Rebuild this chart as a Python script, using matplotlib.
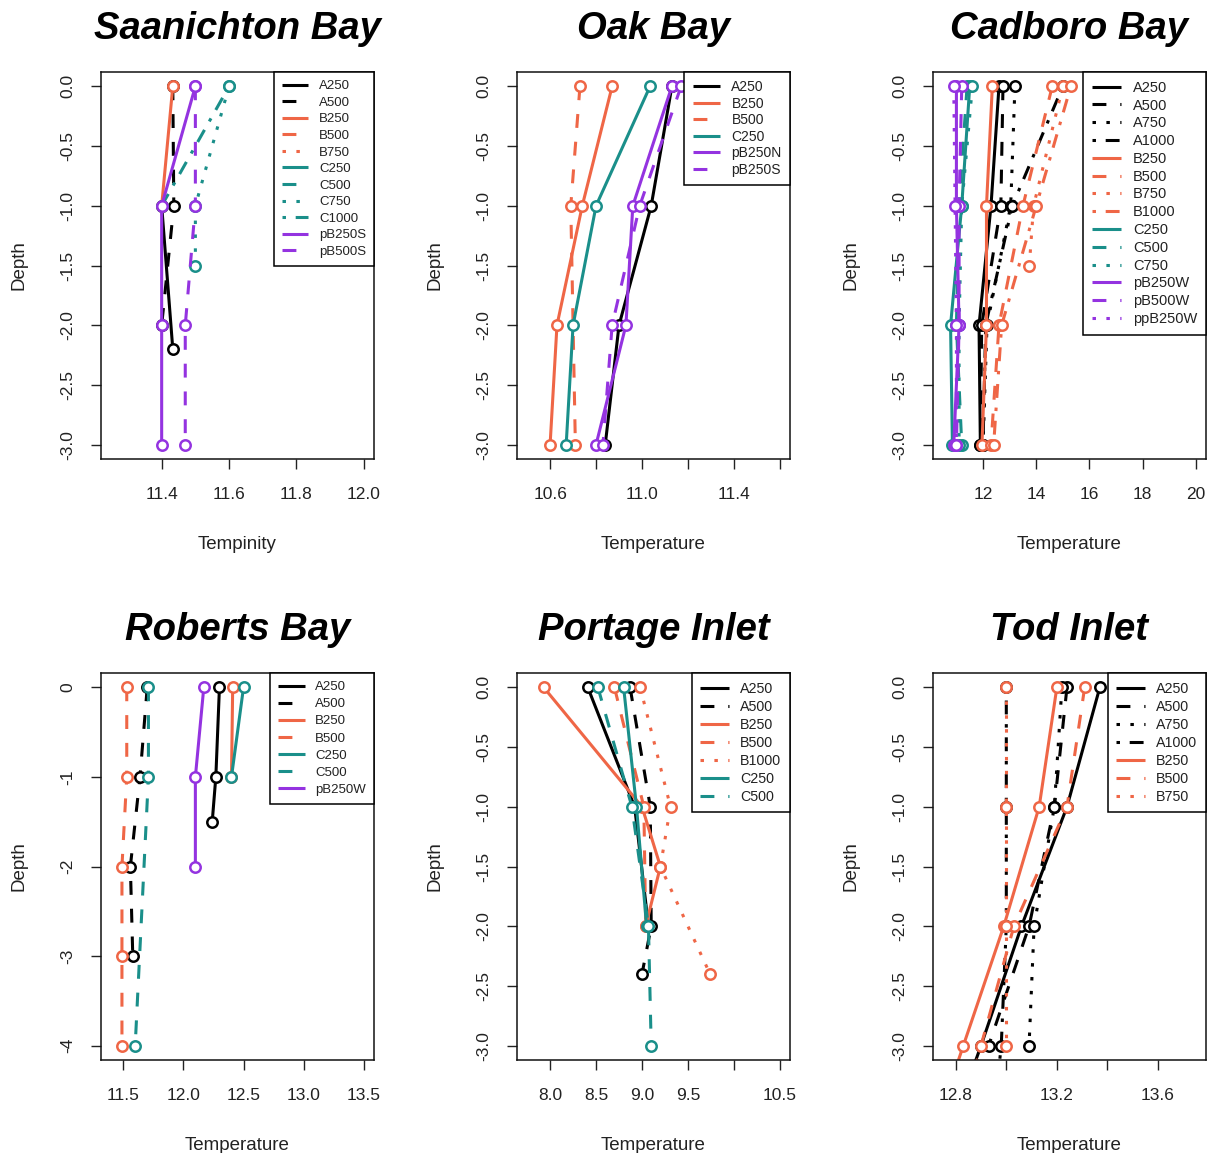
import matplotlib
matplotlib.use("Agg")
import matplotlib.pyplot as plt
from matplotlib.lines import Line2D

plt.rcParams['font.family'] = ['Liberation Sans', 'DejaVu Sans']
plt.rcParams['axes.unicode_minus'] = False
plt.rcParams['lines.scale_dashes'] = False

# ---- data: temperature profiles by depth at each site ----
saanichton_series = ['A250', 'A500', 'B250', 'B500', 'B750', 'C250', 'C500',
                     'C750', 'C1000', 'pB250S', 'pB500S']
saanichton_depth = [[-1, -2.2], [0, -1, -2], [0, -1], [], [], [], [],
                    [0, -1, -1.5], [0, -1], [0, -1, -2, -3], [0, -1, -2, -3]]
saanichton_temp = [[11.40, 11.433], [11.433, 11.436, 11.40], [11.433, 11.40],
                   [], [], [], [], [11.60, 11.50, 11.50], [11.60, 11.40],
                   [11.50, 11.40, 11.40, 11.40], [11.50, 11.50, 11.47, 11.47]]

oak_series = ['A250', 'B250', 'B500', 'C250', 'pB250N', 'pB250S']
oak_depth = [[0, -1, -2, -3], [0, -1, -2, -3], [0, -1, -3], [0, -1, -2, -3],
             [0, -1, -2, -3], [0, -1, -2, -3]]
oak_temp = [[11.13, 11.04, 10.90, 10.84], [10.87, 10.74, 10.63, 10.60],
            [10.73, 10.69, 10.71], [11.035, 10.80, 10.70, 10.67],
            [11.13, 10.96, 10.93, 10.80], [11.17, 10.99, 10.87, 10.83]]

cadboro_series = ['A250', 'A500', 'A750', 'A1000', 'B250', 'B500', 'B750',
                  'B1000', 'C250', 'C500', 'C750', 'pB250W', 'pB500W', 'ppB250W']
cadboro_depth = [[0, -1, -2, -3]] * 6 + [[0, -1, -1.5]] + [[0, -1, -2, -3]] * 7
cadboro_temp = [[12.6, 12.3, 11.85, 11.9], [12.75, 12.67, 11.95, 11.9],
                [13.2, 13.04, 12.15, 12.0], [15.0, 13.1, 12.1, 12.0],
                [12.35, 12.13, 12.13, 11.96], [14.6, 13.5, 12.6, 12.3],
                [15.0, 13.9, 13.74], [15.3, 14.0, 12.7, 12.4],
                [11.5, 11.2, 10.78, 10.85], [11.4, 11.1, 11.0, 11.2],
                [11.6, 11.2, 11.1, 11.1], [11.0, 11.0, 11.1, 10.9],
                [11.2, 11.1, 11.1, 11.0], [10.9, 10.95, 11.0, 11.0]]

roberts_series = ['A250', 'A500', 'B250', 'B500', 'C250', 'C500', 'pB250W']
roberts_depth = [[0, -1, -1.5], [0, -1, -2, -3], [0, -1], [0, -1, -2, -3, -4],
                 [0, -1], [0, -1, -4], [0, -1, -2]]
roberts_temp = [[12.30, 12.27, 12.24], [11.70, 11.64, 11.56, 11.58],
                [12.41, 12.40], [11.53, 11.53, 11.49, 11.49, 11.49],
                [12.50, 12.40], [11.71, 11.71, 11.60], [12.17, 12.10, 12.10]]

portage_series = ['A250', 'A500', 'B250', 'B500', 'B1000', 'C250', 'C500']
portage_depth = [[0, -1, -2], [0, -1, -2, -2.4], [0, -1, -1.5, -2], [0, -1, -2],
                 [0, -1, -1.5, -2.4], [0, -1, -2], [0, -1, -2, -3]]
portage_temp = [[8.41, 8.92, 9.07], [8.87, 9.09, 9.10, 9.00],
                [7.93, 9.00, 9.20, 9.04], [8.70, 9.02, 9.04],
                [8.98, 9.31, 9.20, 9.74], [8.80, 8.94, 9.05],
                [8.52, 8.89, 9.07, 9.10]]

tod_series = ['A250', 'A500', 'A750', 'A1000', 'B250', 'B500', 'B750']
tod_depth = [[0, -1, -2, -3, -4], [0, -1, -2, -3], [0, -1, -2, -3],
             [0, -1, -2, -3, -4], [0, -1, -2, -3, -4], [0, -1, -2, -3, -4],
             [0, -1, -2, -3]]
tod_temp = [[13.37, 13.24, 13.06, 12.90, 12.73], [13.24, 13.19, 13.09, 12.93],
            [13.22, 13.19, 13.11, 13.09], [13.0, 13.0, 13.0, 12.98, 12.93],
            [13.20, 13.13, 12.99, 12.83, 12.67], [13.31, 13.24, 13.03, 12.90, 12.77],
            [13.0, 13.0, 13.0, 13.0]]

site_titles = ['Saanichton Bay', 'Oak Bay', 'Cadboro Bay',
               'Roberts Bay', 'Portage Inlet', 'Tod Inlet']
x_labels = ['Tempinity', 'Temperature', 'Temperature',
            'Temperature', 'Temperature', 'Temperature']
x_ranges = [(11.25, 12.0), (10.5, 11.6), (10.5, 20.0),
            (11.4, 13.5), (7.75, 10.5), (12.75, 13.75)]
x_ticks = [[11.4, 11.6, 11.8, 12.0],
           [10.6, 10.8, 11.0, 11.2, 11.4, 11.6],
           [12, 14, 16, 18, 20],
           [11.5, 12.0, 12.5, 13.0, 13.5],
           [8.0, 8.5, 9.0, 9.5, 10.0, 10.5],
           [12.8, 13.0, 13.2, 13.4, 13.6]]
x_tick_labels = [['11.4', '11.6', '11.8', '12.0'],
                 ['10.6', '', '11.0', '', '11.4', ''],
                 ['12', '14', '16', '18', '20'],
                 ['11.5', '12.0', '12.5', '13.0', '13.5'],
                 ['8.0', '8.5', '9.0', '9.5', '', '10.5'],
                 ['12.8', '', '13.2', '', '13.6']]
depth_ranges = [(-3, 0), (-3, 0), (-3, 0), (-4, 0), (-3, 0), (-3, 0)]
depth_ticks_half = [0, -0.5, -1, -1.5, -2, -2.5, -3]
depth_labels_half = ['0.0', '-0.5', '-1.0', '-1.5', '-2.0', '-2.5', '-3.0']
depth_ticks_whole = [0, -1, -2, -3, -4]
depth_labels_whole = ['0', '-1', '-2', '-3', '-4']
legend_sizes = [9.5, 10, 10.5, 9.5, 10.3, 10.3]
legend_spacing = [0.33, 0.18, 0.26, 0.37, 0.28, 0.28]

all_series = [saanichton_series, oak_series, cadboro_series,
              roberts_series, portage_series, tod_series]
all_depth = [saanichton_depth, oak_depth, cadboro_depth,
             roberts_depth, portage_depth, tod_depth]
all_temp = [saanichton_temp, oak_temp, cadboro_temp,
            roberts_temp, portage_temp, tod_temp]

# ---- styling ----
GROUP_COLORS = {'A': '#000000', 'B': '#EF6646', 'C': '#1A8F8A', 'p': '#9433E0'}
LINE_STYLES = ['-', (0, (10, 10)), (0, (2.5, 7.5)), (0, (2.5, 7, 10, 7))]
LW = 2.2


def series_styles(names):
    """Colour by site group, line type by order within the group."""
    counts = {}
    styles = []
    for name in names:
        g = name[0]
        k = counts.get(g, 0)
        counts[g] = k + 1
        styles.append((GROUP_COLORS[g], LINE_STYLES[k % len(LINE_STYLES)]))
    return styles


def padded(lo, hi):
    p = 0.04 * (hi - lo)
    return lo - p, hi + p


W, H = 1211, 1153
fig = plt.figure(figsize=(W / 100, H / 100), dpi=100)

col_left = [101, 517, 933]
row_top = [72, 673]
box_w, box_h = 273, 387

for i in range(6):
    r, c = divmod(i, 3)
    x0, y0 = col_left[c], row_top[r]
    ax = fig.add_axes([x0 / W, 1 - (y0 + box_h) / H, box_w / W, box_h / H])

    styles = series_styles(all_series[i])
    for name, d, t, (col, ls) in zip(all_series[i], all_depth[i], all_temp[i], styles):
        if not d:
            continue
        ax.plot(t, d, color=col, linestyle=ls, linewidth=LW, marker='o',
                markersize=7.5, markerfacecolor='white', markeredgecolor=col,
                markeredgewidth=1.8, solid_capstyle='butt', dash_capstyle='butt')

    ax.set_xlim(*padded(*x_ranges[i]))
    ax.set_ylim(*padded(*depth_ranges[i]))
    ax.set_xticks(x_ticks[i])
    ax.set_xticklabels(x_tick_labels[i])
    if depth_ranges[i][0] == -4:
        ax.set_yticks(depth_ticks_whole)
        ax.set_yticklabels(depth_labels_whole, rotation=90, va='center')
    else:
        ax.set_yticks(depth_ticks_half)
        ax.set_yticklabels(depth_labels_half, rotation=90, va='center')

    ax.tick_params(direction='out', length=7.5, width=1.0, labelsize=12.5,
                   colors='#222222')
    ax.tick_params(axis='x', pad=13)
    ax.tick_params(axis='y', pad=11)
    for sp in ax.spines.values():
        sp.set_linewidth(1.1)
        sp.set_color('#111111')

    ax.set_title(site_titles[i], fontsize=27.5, fontweight='bold',
                 fontstyle='italic', pad=24)
    ax.set_xlabel(x_labels[i], fontsize=13.5, color='#222222')
    ax.set_ylabel('Depth', fontsize=13.5, color='#222222')
    ax.xaxis.set_label_coords(0.5, -0.2)
    ax.yaxis.set_label_coords(-0.27, 0.5)

    handles = [Line2D([], [], color=col, linestyle=ls, linewidth=LW,
                      solid_capstyle='butt', dash_capstyle='butt')
               for col, ls in styles]
    leg = ax.legend(handles, all_series[i], loc='upper right',
                    bbox_to_anchor=(1, 1), borderaxespad=0,
                    fontsize=legend_sizes[i], frameon=True, fancybox=False,
                    edgecolor='black', framealpha=1, borderpad=0.6,
                    handlelength=2.0, handletextpad=0.8,
                    labelspacing=legend_spacing[i])
    leg.get_frame().set_linewidth(1.1)
    for txt in leg.get_texts():
        txt.set_color('#222222')

fig.savefig('out.png', dpi=100)
